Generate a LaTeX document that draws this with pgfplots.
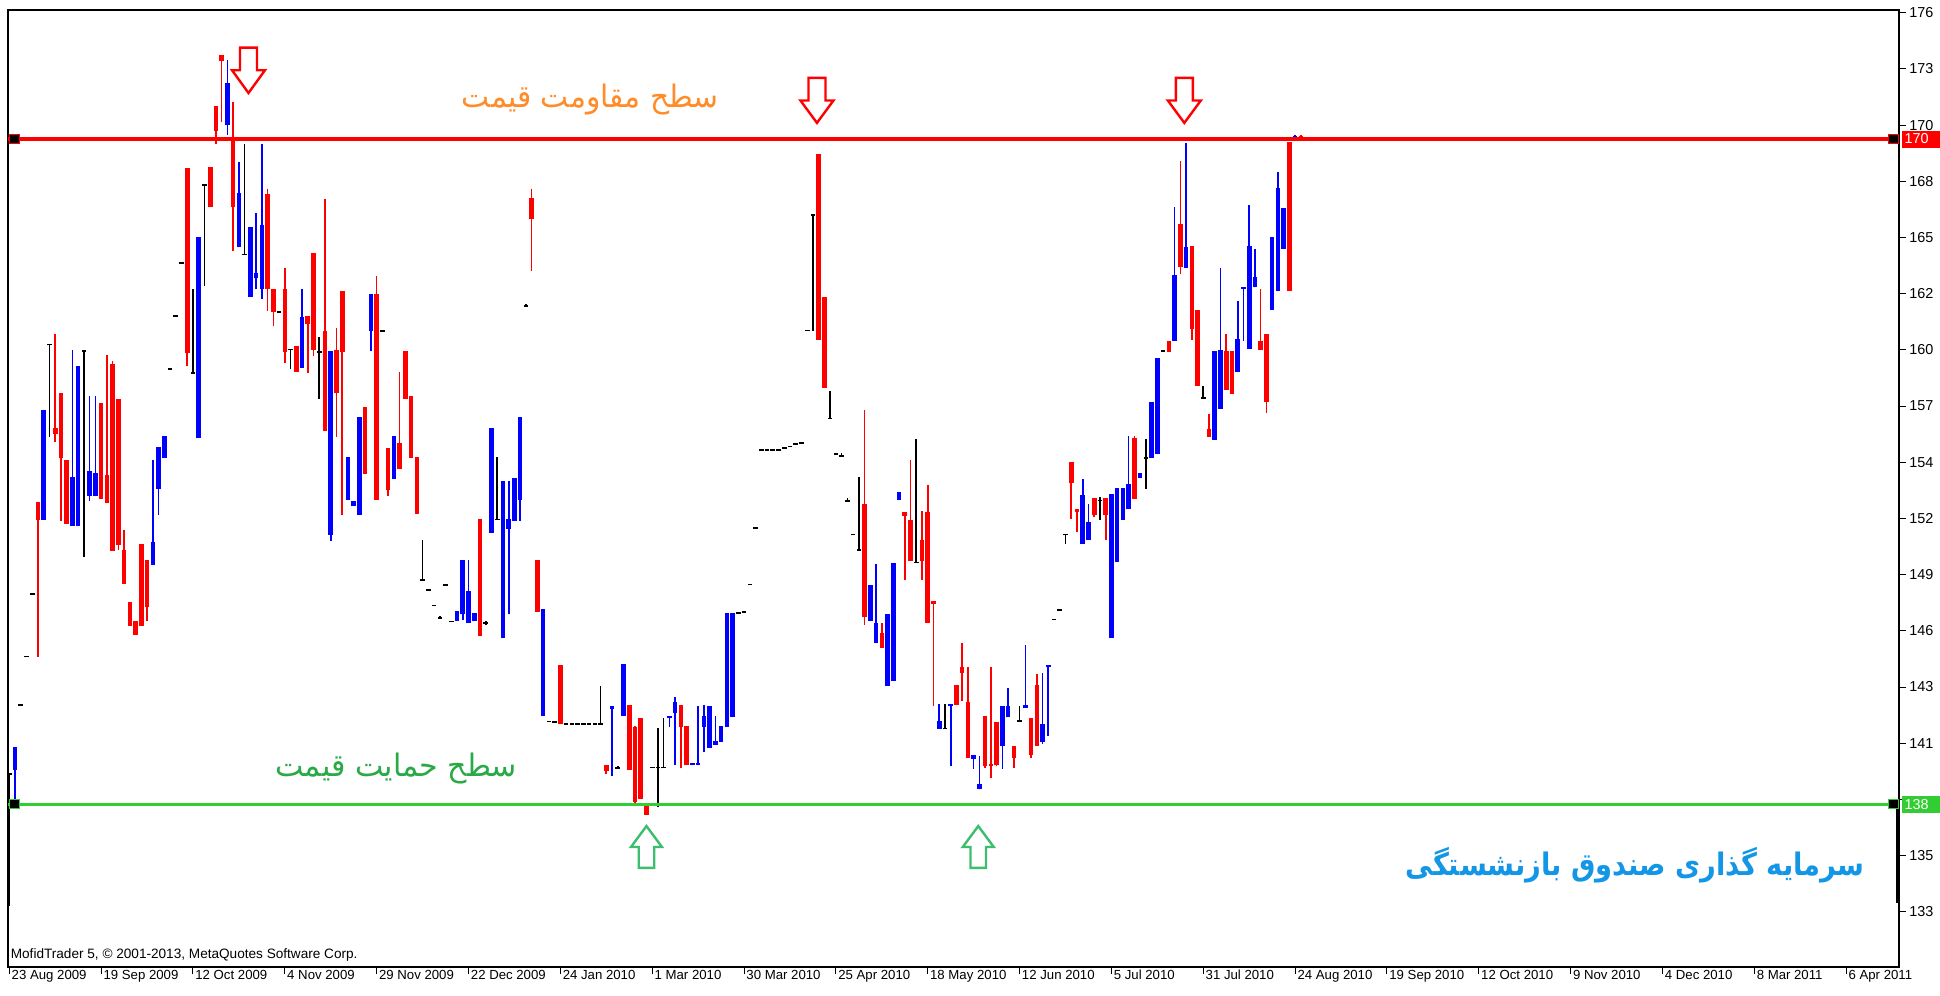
\documentclass[border=0pt]{standalone}
\usepackage{fontspec}
\setmainfont{Liberation Sans}
\newfontfamily\arabicfont[Script=Arabic]{DejaVu Sans}
\TeXXeTstate=1
\usepackage{pgfplots}
\usepackage{pgfplotstable}
\pgfplotsset{compat=1.18}

\definecolor{cred}{RGB}{255,0,0}
\definecolor{cblue}{RGB}{0,0,255}
\definecolor{sgreen}{RGB}{50,205,50}
\definecolor{torange}{RGB}{255,140,40}
\definecolor{tgreen}{RGB}{40,170,70}
\definecolor{tblue}{RGB}{20,150,230}
\definecolor{agreen}{RGB}{60,190,110}

\newcommand\tfont{\fontsize{6.6}{7.5}\selectfont}
\newcommand\yfont{\fontsize{7.2}{8}\selectfont}

% x = bar index, wl/wh = wick low/high, bl/bh = body low/high
\pgfplotstableread{
x wl wh bl bh
5 145.20 152.59 151.75 152.59
8 155.48 160.65 155.84 156.15
9 151.70 157.81 154.68 157.81
10 151.55 154.59 151.55 154.59
16 152.76 157.35 152.76 157.35
17 152.54 159.64 152.54 153.91
18 150.26 159.32 150.26 159.20
19 150.30 157.52 150.54 157.52
20 148.67 151.27 148.67 150.30
21 146.69 147.82 146.69 147.82
22 146.26 146.93 146.26 146.93
23 146.69 150.59 146.69 150.59
24 146.93 149.82 147.58 149.82
31 159.08 168.59 159.73 168.59
35 166.71 168.64 166.71 168.64
36 169.74 171.52 170.32 171.52
37 170.75 174.00 173.69 174.00
39 164.62 171.72 166.71 169.91
45 161.73 167.55 162.81 167.31
46 161.01 162.81 161.68 162.81
48 159.25 163.78 159.76 162.77
50 158.80 160.05 158.80 160.05
52 158.77 161.49 161.13 161.49
53 159.57 164.50 159.88 164.50
55 156.00 167.07 156.00 160.77
57 155.72 160.94 157.81 159.88
58 151.99 162.69 159.76 162.69
62 153.96 157.16 153.96 157.16
64 152.71 163.42 152.71 162.53
66 152.90 155.19 153.19 155.19
68 154.20 158.80 154.20 155.40
69 157.52 159.81 157.52 159.81
70 154.68 157.69 154.68 157.69
71 152.04 154.75 152.04 154.75
82 146.21 151.80 146.21 151.80
91 163.66 167.55 166.13 167.14
92 147.34 149.82 147.34 149.82
96 141.98 144.82 141.98 144.82
104 139.60 140.02 139.72 140.02
108 139.76 142.87 139.80 142.87
109 138.22 141.90 138.25 141.85
110 138.40 142.27 138.40 142.25
111 137.65 138.04 137.65 138.04
117 139.86 142.87 141.84 142.87
118 140.02 141.90 140.02 141.90
141 160.36 169.26 160.36 169.25
142 158.05 162.39 158.05 162.39
149 146.73 156.98 147.10 152.52
152 145.61 146.81 145.61 146.33
156 148.86 152.11 151.95 152.11
157 149.77 154.59 149.77 151.75
159 148.86 152.18 149.77 150.78
160 146.81 153.43 146.81 152.11
161 142.84 147.85 147.72 147.85
165 142.87 143.87 142.87 143.85
166 143.09 145.85 144.41 144.72
167 140.35 144.72 140.35 143.05
170 139.90 142.35 139.96 142.35
171 139.40 144.73 139.95 140.08
172 139.96 142.10 140.00 142.10
175 139.86 140.92 140.35 140.92
178 140.35 142.25 140.50 142.25
179 140.92 144.36 140.95 143.85
185 151.80 154.50 153.50 154.50
186 151.15 152.25 152.10 152.25
189 151.90 152.80 152.00 152.78
191 150.78 152.80 152.00 152.78
196 152.75 155.75 152.75 155.65
202 159.77 160.30 159.77 160.30
204 163.50 168.90 163.82 165.88
206 160.36 164.86 160.88 164.86
207 158.13 161.80 158.13 161.80
209 155.72 156.81 155.72 156.09
212 157.95 160.65 157.97 159.82
213 157.76 159.82 157.78 159.82
218 159.88 162.77 159.88 160.29
219 156.85 160.65 157.40 160.65
223 162.69 169.84 162.69 169.84
225 169.85 170.15 169.90 170.10
}\redtab

\pgfplotstableread{
x wl wh bl bh
1 138.20 140.87 139.79 140.87
6 151.75 157.00 151.75 157.00
11 151.46 159.88 151.46 153.79
12 151.46 159.08 151.46 159.08
14 152.64 157.69 152.88 154.10
15 152.88 157.69 152.88 154.00
25 149.58 154.63 149.58 150.71
26 151.99 155.24 153.24 155.24
27 154.68 155.76 154.68 155.76
33 155.64 165.27 155.64 165.27
38 170.15 173.76 170.61 172.63
40 164.79 168.88 164.79 167.39
42 162.40 165.75 162.40 165.75
43 162.77 166.42 163.29 163.53
44 162.33 169.74 162.81 165.87
51 159.01 162.77 159.01 161.44
56 150.74 159.81 151.03 159.81
59 152.71 154.75 152.71 154.75
60 152.40 152.64 152.40 152.64
61 151.99 156.68 151.99 156.68
63 159.81 162.53 160.77 162.53
67 153.72 155.76 153.72 155.76
78 146.89 147.41 146.89 147.41
79 146.95 149.82 147.22 149.82
80 146.81 149.82 146.81 148.33
81 146.89 147.29 146.89 147.29
84 151.14 156.15 151.14 156.15
86 146.09 153.60 146.09 153.60
87 147.22 153.60 151.31 151.80
88 151.70 153.74 151.70 153.74
89 151.70 156.68 152.71 156.68
93 142.36 147.46 142.36 147.46
105 139.50 142.84 142.70 142.84
107 142.37 144.84 142.37 144.84
115 141.84 142.38 142.25 142.38
116 140.01 143.26 142.49 143.04
119 140.01 140.10 140.01 140.10
120 140.01 142.82 140.01 140.12
121 140.63 142.87 141.84 142.38
122 140.85 142.82 140.85 142.82
123 141.00 142.38 141.00 141.18
124 141.11 141.90 141.11 141.90
125 141.84 147.27 141.84 147.27
126 142.34 147.27 142.34 147.27
150 146.93 148.62 146.93 148.62
151 145.85 149.63 145.85 146.81
153 143.81 147.22 143.81 147.22
154 144.05 149.70 144.05 149.70
155 152.71 153.07 152.71 153.07
162 141.76 142.96 141.76 142.12
164 139.96 142.96 142.82 142.96
168 139.84 140.49 140.32 140.49
169 138.85 140.44 138.85 139.10
173 139.84 142.85 140.92 142.85
174 142.30 143.69 142.30 142.84
177 142.75 145.76 142.75 142.87
180 141.04 144.40 141.10 142.00
181 141.40 144.82 144.70 144.82
187 150.58 153.68 150.58 152.95
188 150.80 152.50 150.80 151.63
192 146.10 152.96 146.10 152.96
193 149.75 153.27 149.75 153.27
194 151.76 153.27 151.76 153.27
195 152.25 155.77 152.25 153.45
197 153.73 153.98 153.73 153.98
199 154.70 157.40 154.70 157.40
200 154.88 159.47 154.88 159.47
203 160.30 166.70 160.30 163.45
205 163.78 169.75 163.78 164.80
210 155.57 159.82 155.57 159.82
211 157.06 163.78 157.06 159.88
214 158.80 162.22 158.80 160.40
215 160.30 162.88 162.78 162.88
216 159.93 166.78 159.93 164.86
217 162.86 164.69 162.86 163.34
220 161.80 165.27 161.80 165.27
221 162.69 168.40 162.69 167.63
222 164.69 166.66 164.69 166.66
224 169.85 170.15 169.90 170.10
}\bluetab

% unchanged bars: wick low/high and the level d of the flat body
\pgfplotstableread{
x wl wh d
0 133.30 139.60 139.60
2 142.89 142.89 142.89
3 145.20 145.20 145.20
4 148.21 148.21 148.21
7 155.72 160.12 160.12
13 149.99 159.81 159.81
28 158.96 158.96 158.96
29 161.49 161.49 161.49
30 164.02 164.02 164.02
32 158.77 162.77 158.77
34 162.93 167.75 167.75
41 164.43 169.74 164.43
47 161.68 161.68 161.68
49 158.96 159.88 159.88
54 157.52 160.48 159.78
65 160.77 160.77 160.77
72 148.86 150.78 148.86
73 148.38 148.38 148.38
74 147.66 147.66 147.66
75 147.05 147.15 147.05
76 148.62 148.62 148.62
77 146.89 146.89 146.89
83 146.71 146.91 146.81
85 151.75 154.75 151.75
90 161.97 162.07 161.97
94 142.10 142.10 142.10
95 142.08 142.08 142.08
97 141.98 141.98 141.98
98 141.98 141.98 141.98
99 141.98 141.98 141.98
100 141.98 141.98 141.98
101 141.98 141.98 141.98
102 141.98 141.98 141.98
103 141.98 143.80 141.98
106 139.87 139.97 139.87
112 139.90 139.90 139.90
113 138.00 141.79 139.90
114 139.90 142.27 139.90
127 147.28 147.28 147.28
128 147.34 147.34 147.34
129 148.65 148.65 148.65
130 151.36 151.36 151.36
131 155.09 155.09 155.09
132 155.09 155.09 155.09
133 155.09 155.09 155.09
134 155.09 155.09 155.09
135 155.18 155.18 155.18
136 155.26 155.26 155.26
137 155.38 155.38 155.38
138 155.42 155.42 155.42
139 160.79 160.79 160.79
140 160.79 166.33 166.33
143 156.58 157.90 156.58
144 154.90 154.90 154.90
145 154.80 154.95 154.80
146 152.65 152.80 152.65
147 151.04 151.04 151.04
148 150.30 153.79 150.30
158 149.70 155.62 149.70
163 141.76 142.96 141.76
176 142.12 142.85 142.12
182 146.99 146.99 146.99
183 147.43 147.43 147.43
184 150.58 151.04 151.04
190 151.72 152.82 152.68
198 153.24 155.60 154.70
201 159.82 159.82 159.82
208 157.57 158.15 157.57
}\blacktab

\pgfplotsset{
  wick/.style={only marks, mark=*, mark size=0pt, mark options={draw=none, fill=none}, forget plot,
    error bars/.cd, y dir=plus, y explicit, error mark=none,
    error bar style={line width=0.8pt, line cap=butt, draw=#1}},
  body/.style={only marks, mark=*, mark size=0pt, mark options={draw=none, fill=none}, forget plot,
    error bars/.cd, y dir=plus, y explicit, error mark=none,
    error bar style={line width=2.3pt, line cap=butt, draw=#1}},
}

\begin{document}
\begin{tikzpicture}
\path[use as bounding box] (-4pt,-14.5pt) rectangle (966pt,483.5pt);
\begin{axis}[
  at={(0,0)}, anchor=south west,
  scale only axis, width=945.5pt, height=478.5pt,
  xmin=-0.226, xmax=329.2, ymin=130.36, ymax=176.13,
  clip mode=individual,
  axis line style={draw=black, line width=0.7pt},
  tick align=outside, major tick length=3.5pt,
  tick style={black, line width=0.5pt},
  xtick pos=bottom, ytick pos=right, yticklabel pos=right,
  xtick={0,16,32,48,64,80,96,112,128,144,160,176,192,208,224,240,256,272,288,304,320},
  xticklabels={23 Aug 2009,19 Sep 2009,12 Oct 2009,4 Nov 2009,29 Nov 2009,22 Dec 2009,24 Jan 2010,1 Mar 2010,30 Mar 2010,25 Apr 2010,18 May 2010,12 Jun 2010,5 Jul 2010,31 Jul 2010,24 Aug 2010,19 Sep 2010,12 Oct 2010,9 Nov 2010,4 Dec 2010,8 Mar 2011,6 Apr 2011},
  ytick={133,135.6875,138.375,141.0625,143.75,146.4375,149.125,151.8125,154.5,157.1875,159.875,162.5625,165.25,167.9375,170.625,173.3125,176},
  yticklabels={133,135,{},141,143,146,149,152,154,157,160,162,165,168,170,173,176},
  xticklabel style={font=\tfont, anchor=north west, inner sep=0pt, xshift=1pt, yshift=2pt},
  yticklabel style={font=\yfont, anchor=west, inner sep=0pt, xshift=1.5pt},
]
% wicks
\addplot[wick=cred] table[x=x, y=wl, y error plus expr=\thisrow{wh}-\thisrow{wl}] {\redtab};
\addplot[wick=cblue] table[x=x, y=wl, y error plus expr=\thisrow{wh}-\thisrow{wl}] {\bluetab};
\addplot[wick=black] table[x=x, y=wl, y error plus expr=\thisrow{wh}-\thisrow{wl}] {\blacktab};
% bodies
\addplot[body=cred] table[x=x, y=bl, y error plus expr=\thisrow{bh}-\thisrow{bl}] {\redtab};
\addplot[body=cblue] table[x=x, y=bl, y error plus expr=\thisrow{bh}-\thisrow{bl}] {\bluetab};
\addplot[body=black] table[x=x, y expr=\thisrow{d}-0.035, y error plus expr=0.07] {\blacktab};
\addplot[body=black] coordinates {(329,133.42) +- (0,4.64)};

% resistance and support lines
\addplot[draw=cred, line width=1.6pt, forget plot] coordinates {(-0.226,169.96) (329.2,169.96)};
\addplot[draw=sgreen, line width=1.6pt, forget plot] coordinates {(-0.226,138.15) (329.2,138.15)};

\node[fill=black, draw=cred, line width=0.7pt, minimum width=5pt, minimum height=4.5pt, inner sep=0pt] at (axis cs:0.9,169.96) {};
\node[fill=black, draw=cred, line width=0.7pt, minimum width=5pt, minimum height=4.5pt, inner sep=0pt] at (axis cs:328.2,169.96) {};
\node[fill=black, draw=sgreen, line width=0.7pt, minimum width=5pt, minimum height=4.5pt, inner sep=0pt] at (axis cs:0.9,138.15) {};
\node[fill=black, draw=sgreen, line width=0.7pt, minimum width=5pt, minimum height=4.5pt, inner sep=0pt] at (axis cs:328.2,138.15) {};

\node[fill=cred, text=white, anchor=west, font=\yfont, inner xsep=1.5pt, inner ysep=0pt, minimum height=8.5pt, text width=20pt, align=left] at (axis cs:329.6,169.96) {170};
\node[fill=sgreen, text=white, anchor=west, font=\yfont, inner xsep=1.5pt, inner ysep=0pt, minimum height=8.5pt, text width=20pt, align=left] at (axis cs:329.6,138.15) {138};

% arrows
\draw[cred, line width=1.2pt, fill=white, line join=miter]
  (axis cs:40.19,174.33) -- (axis cs:43.15,174.33) -- (axis cs:43.15,173.25) -- (axis cs:44.54,173.25)
  -- (axis cs:41.67,172.16) -- (axis cs:38.80,173.25) -- (axis cs:40.19,173.25) -- cycle;
\draw[cred, line width=1.2pt, fill=white, line join=miter]
  (axis cs:139.22,172.88) -- (axis cs:142.18,172.88) -- (axis cs:142.18,171.80) -- (axis cs:143.57,171.80)
  -- (axis cs:140.70,170.73) -- (axis cs:137.83,171.80) -- (axis cs:139.22,171.80) -- cycle;
\draw[cred, line width=1.2pt, fill=white, line join=miter]
  (axis cs:203.22,172.88) -- (axis cs:206.18,172.88) -- (axis cs:206.18,171.80) -- (axis cs:207.57,171.80)
  -- (axis cs:204.70,170.73) -- (axis cs:201.83,171.80) -- (axis cs:203.22,171.80) -- cycle;
\draw[agreen, line width=1.2pt, fill=white, line join=miter]
  (axis cs:109.65,135.10) -- (axis cs:112.35,135.10) -- (axis cs:112.35,136.10) -- (axis cs:113.70,136.10)
  -- (axis cs:111.00,137.10) -- (axis cs:108.30,136.10) -- (axis cs:109.65,136.10) -- cycle;
\draw[agreen, line width=1.2pt, fill=white, line join=miter]
  (axis cs:167.45,135.10) -- (axis cs:170.15,135.10) -- (axis cs:170.15,136.10) -- (axis cs:171.50,136.10)
  -- (axis cs:168.80,137.10) -- (axis cs:166.10,136.10) -- (axis cs:167.45,136.10) -- cycle;

% texts
\node[text=torange, font=\arabicfont\fontsize{15.5}{18}\selectfont, inner sep=0pt, xscale=0.96] at (axis cs:101.2,171.87) {\beginR سطح مقاومت قیمت\endR};
\node[text=tgreen, font=\arabicfont\fontsize{15.5}{18}\selectfont, inner sep=0pt, xscale=0.97] at (axis cs:67.4,139.83) {\beginR سطح حمایت قیمت\endR};
\node[text=tblue, font=\arabicfont\bfseries\fontsize{15.5}{18}\selectfont, inner sep=0pt, xscale=0.88] at (axis cs:283.2,135.24) {\beginR سرمایه گذاری صندوق بازنشستگی\endR};
\node[anchor=west, font=\fontsize{6.8}{8}\selectfont, inner sep=0pt] at (axis cs:0.2,130.94) {MofidTrader 5, © 2001-2013, MetaQuotes Software Corp.};
\end{axis}
\end{tikzpicture}
\end{document}
